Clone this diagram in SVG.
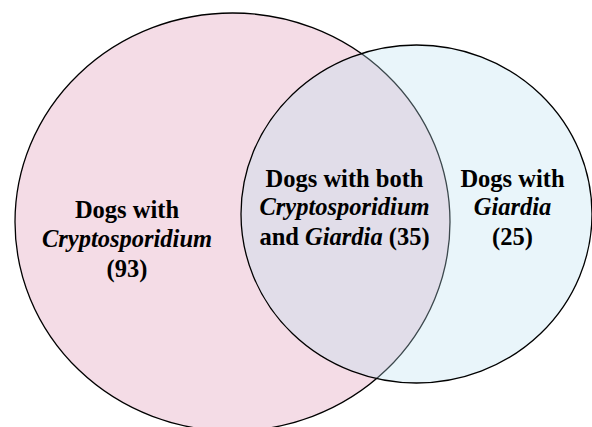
<svg xmlns="http://www.w3.org/2000/svg" width="592" height="427" viewBox="0 0 592 427">
<style>
text{font-family:'Liberation Serif','Times New Roman',serif;font-weight:bold;font-size:24.5px;fill:#000;text-anchor:middle}
.it{font-style:italic}
</style>
<rect width="592" height="427" fill="#fff"/>
<g id="crypto">
<ellipse cx="232.5" cy="222" rx="217.5" ry="209" fill="#F4DCE6" stroke="#000" stroke-width="1.3"/>
</g>
<g id="giardia">
<ellipse cx="416.5" cy="214" rx="175.5" ry="169" fill="#BAE0EF" fill-opacity="0.32" stroke="#000" stroke-width="1.3"/>
</g>
<g id="labels">
<text x="127" y="218">Dogs with</text>
<text class="it" x="127" y="247">Cryptosporidium</text>
<text x="127" y="277">(93)</text>
<text x="344.5" y="187">Dogs with both</text>
<text class="it" x="344.5" y="215">Cryptosporidium</text>
<text x="344.5" y="245">and <tspan class="it">Giardia</tspan> (35)</text>
<text x="512.5" y="187">Dogs with</text>
<text class="it" x="512.5" y="215">Giardia</text>
<text x="512.5" y="245">(25)</text>
</g>
<g id="connectors"/>
</svg>
